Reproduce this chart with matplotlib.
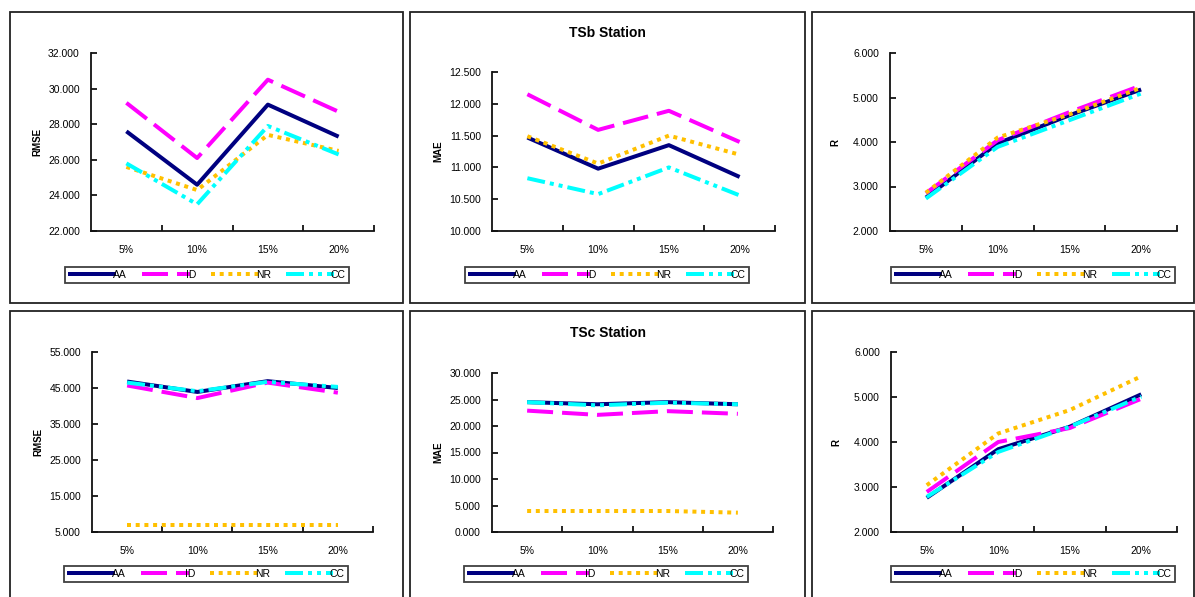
import matplotlib
matplotlib.use("Agg")
import matplotlib.pyplot as plt
from matplotlib.patches import Rectangle
import numpy as np

plt.rcParams['font.family'] = ['Liberation Sans', 'DejaVu Sans']
plt.rcParams['lines.scale_dashes'] = False

categories = ['5%', '10%', '15%', '20%']
series_names = ['AA', 'ID', 'NR', 'CC']

# TSb station
tsb_rmse_aa = [27.6, 24.6, 29.1, 27.3]
tsb_rmse_id = [29.2, 26.1, 30.5, 28.7]
tsb_rmse_nr = [25.6, 24.3, 27.4, 26.5]
tsb_rmse_cc = [25.8, 23.5, 27.9, 26.3]

tsb_mae_aa = [11.47, 10.98, 11.35, 10.85]
tsb_mae_id = [12.15, 11.59, 11.89, 11.40]
tsb_mae_nr = [11.49, 11.06, 11.50, 11.20]
tsb_mae_cc = [10.83, 10.58, 11.00, 10.56]

tsb_r_aa = [2.75, 3.97, 4.60, 5.18]
tsb_r_id = [2.85, 4.04, 4.67, 5.27]
tsb_r_nr = [2.86, 4.10, 4.62, 5.22]
tsb_r_cc = [2.73, 3.89, 4.49, 5.09]

# TSc station
tsc_rmse_aa = [46.8, 43.9, 46.9, 45.0]
tsc_rmse_id = [45.7, 42.2, 46.5, 43.7]
tsc_rmse_nr = [7.0, 7.0, 7.0, 7.0]
tsc_rmse_cc = [46.5, 44.1, 46.7, 45.3]

tsc_mae_aa = [24.5, 24.1, 24.5, 24.1]
tsc_mae_id = [22.9, 22.1, 22.8, 22.3]
tsc_mae_nr = [3.96, 3.96, 3.96, 3.65]
tsc_mae_cc = [24.5, 23.9, 24.4, 24.1]

tsc_r_aa = [2.76, 3.84, 4.34, 5.06]
tsc_r_id = [2.89, 4.00, 4.31, 4.96]
tsc_r_nr = [3.04, 4.19, 4.71, 5.46]
tsc_r_cc = [2.78, 3.78, 4.34, 5.01]

panels = [
    dict(data=[tsb_rmse_aa, tsb_rmse_id, tsb_rmse_nr, tsb_rmse_cc], ylabel='RMSE',
         ylim=(22, 32), step=2, title=None),
    dict(data=[tsb_mae_aa, tsb_mae_id, tsb_mae_nr, tsb_mae_cc], ylabel='MAE',
         ylim=(10, 12.5), step=0.5, title='TSb Station'),
    dict(data=[tsb_r_aa, tsb_r_id, tsb_r_nr, tsb_r_cc], ylabel='R',
         ylim=(2, 6), step=1, title=None),
    dict(data=[tsc_rmse_aa, tsc_rmse_id, tsc_rmse_nr, tsc_rmse_cc], ylabel='RMSE',
         ylim=(5, 55), step=10, title=None),
    dict(data=[tsc_mae_aa, tsc_mae_id, tsc_mae_nr, tsc_mae_cc], ylabel='MAE',
         ylim=(0, 30), step=5, title='TSc Station'),
    dict(data=[tsc_r_aa, tsc_r_id, tsc_r_nr, tsc_r_cc], ylabel='R',
         ylim=(2, 6), step=1, title=None),
]

W, H = 1195, 597
fig = plt.figure(figsize=(W / 100, H / 100), dpi=100)
fig.patch.set_facecolor('white')

# axes boxes in pixels: left, right, top, bottom
axes_px = [
    (91, 374, 53, 231), (492, 775, 72, 231), (890, 1177, 53, 231),
    (92, 373, 352, 532), (492, 773, 373, 532), (891, 1177, 352, 532),
]
frames_px = [
    (9.5, 403, 12, 303), (410, 805, 12, 303), (812, 1194, 12, 303),
    (9.5, 403, 311, 602), (410, 805, 311, 602), (812, 1194, 311, 602),
]
legend_px = [(207, 275), (607, 275), (1033, 275), (206, 574), (606, 574), (1033, 574)]
title_y = [33, 333]

px = 0.72  # points per pixel
styles = [
    dict(color='#000080', lw=4 * px, ls='-'),
    dict(color='#FF00FF', lw=4 * px, ls=(0, (26 * px, 9 * px))),
    dict(color='#FFC000', lw=4 * px, ls=(0, (4 * px, 4.7 * px))),
    dict(color='#00FFFF', lw=4 * px, ls=(0, (18 * px, 5 * px, 4 * px, 5 * px, 4 * px, 5 * px))),
]

for i, p in enumerate(panels):
    fl, fr, ft, fb = frames_px[i]
    fig.add_artist(Rectangle((fl / W, 1 - fb / H), (fr - fl) / W, (fb - ft) / H,
                             transform=fig.transFigure, fill=False,
                             ec='#222222', lw=1.3, zorder=0))
    l, r, t, b = axes_px[i]
    ax = fig.add_axes([l / W, 1 - b / H, (r - l) / W, (b - t) / H])
    x = np.arange(len(categories))
    handles = []
    for name, vals, st in zip(series_names, p['data'], styles):
        line, = ax.plot(x, vals, color=st['color'], lw=st['lw'], linestyle=st['ls'],
                        solid_capstyle='butt', dash_capstyle='butt', label=name)
        handles.append(line)
    ax.set_xlim(-0.5, len(categories) - 0.5)
    ax.set_ylim(*p['ylim'])
    ax.set_yticks(np.arange(p['ylim'][0], p['ylim'][1] + p['step'] / 2, p['step']))
    ax.yaxis.set_major_formatter(matplotlib.ticker.FormatStrFormatter('%.3f'))
    ax.set_xticks(np.arange(len(categories)) + 0.5)
    ax.set_xticklabels([])
    ax.set_xticks(np.arange(len(categories)), minor=True)
    ax.set_xticklabels(categories, minor=True)
    ax.tick_params(axis='x', which='major', direction='in', length=4, width=1.2)
    ax.tick_params(axis='x', which='minor', length=0, pad=10, labelsize=7.5)
    ax.tick_params(axis='y', direction='in', length=4, width=1.2, pad=8, labelsize=7.5)
    for s in ['top', 'right']:
        ax.spines[s].set_visible(False)
    for s in ['left', 'bottom']:
        ax.spines[s].set_linewidth(1.3)
        ax.spines[s].set_color('#111111')
    ax.set_ylabel(p['ylabel'], fontsize=7, fontweight='bold')
    ax.yaxis.set_label_coords(-0.172, 0.5)
    ax.patch.set_alpha(0)

    cx, cy = legend_px[i]
    leg = fig.legend(handles=handles, loc='center', bbox_to_anchor=(cx / W, 1 - cy / H),
                     ncol=4, fontsize=7.5, frameon=True, fancybox=False,
                     handlelength=4.6, handletextpad=-0.3, columnspacing=1.4,
                     borderpad=0.3, borderaxespad=0)
    leg.get_frame().set_edgecolor('#111111')
    leg.get_frame().set_linewidth(1.3)

    if p['title']:
        fig.text(((fl + fr) / 2) / W, 1 - title_y[i // 3] / H, p['title'],
                 ha='center', va='center', fontsize=10, fontweight='bold')

fig.savefig('out.png', dpi=100)
